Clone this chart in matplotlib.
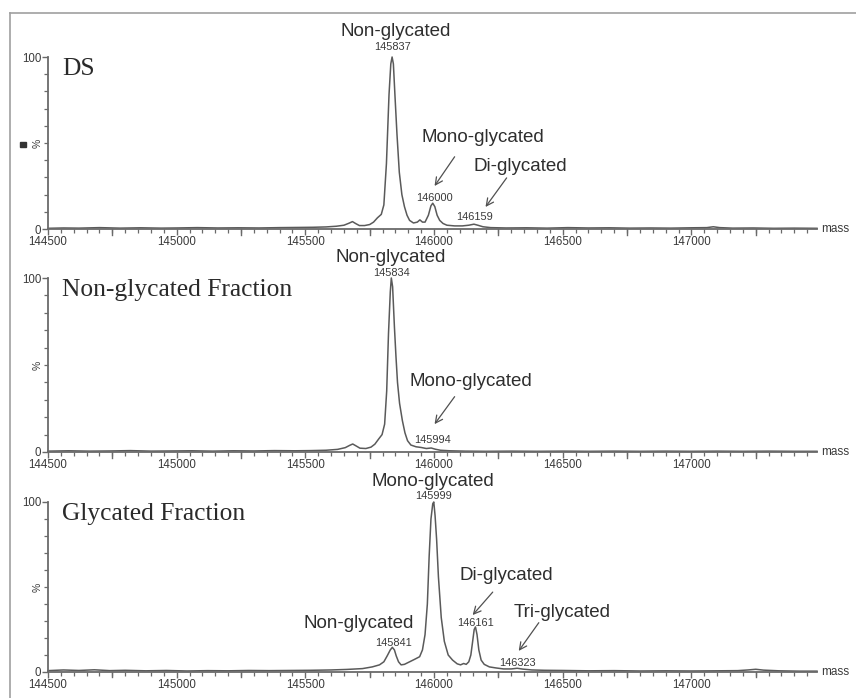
import matplotlib
matplotlib.use("Agg")
import matplotlib.pyplot as plt
from matplotlib.lines import Line2D
from matplotlib.patches import Rectangle
from matplotlib.ticker import MultipleLocator, FixedLocator

# ---- spectra (deconvoluted mass, relative intensity %) ----
ds_mass = [144500, 144560, 144620, 144700, 144780, 144860, 144940, 145000, 145080,
           145160, 145240, 145320, 145400, 145470, 145530, 145580, 145620, 145650,
           145670, 145683, 145695, 145710, 145730, 145750, 145765, 145780, 145795,
           145805, 145815, 145825, 145832, 145837, 145842, 145848, 145856, 145865,
           145875, 145885, 145895, 145905, 145920, 145935, 145945, 145955, 145965,
           145978, 145988, 145995, 146003, 146012, 146022, 146035, 146050, 146080,
           146110, 146135, 146155, 146170, 146190, 146220, 146280, 146360, 146440,
           146520, 146600, 146680, 146760, 146840, 146920, 147000, 147060, 147085,
           147110, 147160, 147240, 147320, 147400, 147488]
ds_int = [0.4, 0.6, 0.5, 0.8, 0.5, 0.7, 0.5, 0.6, 0.8,
          0.6, 0.7, 0.6, 0.8, 0.9, 1.0, 1.2, 1.6, 2.2,
          3.4, 4.3, 3.2, 2.0, 2.0, 2.6, 4.0, 6.5, 8.5,
          14, 38, 78, 96, 100, 96, 78, 55, 33,
          20, 13, 8, 5, 3.5, 4.0, 5.3, 4.0, 4.0,
          8.0, 13.5, 15, 13, 8.0, 5.0, 3.2, 2.2, 1.8,
          1.8, 2.2, 2.8, 2.2, 1.3, 0.8, 0.6, 0.7, 0.5,
          0.8, 0.6, 0.7, 0.5, 0.6, 0.5, 0.7, 0.8, 1.3,
          0.8, 0.5, 0.6, 0.4, 0.5, 0.4]

ng_mass = [144500, 144580, 144660, 144740, 144820, 144900, 144980, 145060, 145140,
           145220, 145300, 145380, 145460, 145520, 145580, 145625, 145655, 145672,
           145684, 145697, 145712, 145735, 145755, 145770, 145785, 145798, 145808,
           145816, 145823, 145830, 145834, 145839, 145846, 145852, 145858, 145866,
           145877, 145887, 145897, 145910, 145930, 145950, 145970, 145989, 146005,
           146025, 146060, 146120, 146200, 146300, 146400, 146500, 146600, 146700,
           146800, 146900, 147000, 147100, 147200, 147300, 147400, 147488]
ng_int = [0.5, 0.7, 0.5, 0.6, 0.8, 0.5, 0.6, 0.7, 0.5,
          0.7, 0.6, 0.8, 0.7, 0.8, 1.0, 1.5, 2.5, 3.8,
          4.6, 3.5, 2.2, 2.0, 2.8, 4.5, 7.5, 10, 16,
          35, 68, 92, 100, 95, 72, 55, 40, 28,
          18, 11, 6.5, 4.0, 3.0, 2.6, 2.0, 2.3, 1.6,
          1.0, 0.7, 0.5, 0.4, 0.5, 0.4, 0.5, 0.4, 0.5,
          0.4, 0.5, 0.4, 0.5, 0.4, 0.5, 0.4, 0.4]

gl_mass = [144500, 144560, 144620, 144680, 144740, 144800, 144880, 144960, 145040,
           145120, 145200, 145280, 145360, 145440, 145520, 145600, 145660, 145722,
           145760, 145788, 145805, 145818, 145830, 145838, 145846, 145853, 145862,
           145872, 145885, 145905, 145925, 145944, 145955, 145965, 145974, 145981,
           145988, 145995, 145999, 146004, 146010, 146017, 146028, 146040, 146055,
           146072, 146090, 146103, 146115, 146125, 146135, 146143, 146150, 146156,
           146161, 146167, 146174, 146183, 146195, 146215, 146240, 146270, 146300,
           146323, 146345, 146380, 146430, 146500, 146600, 146700, 146800, 146900,
           147000, 147100, 147180, 147220, 147250, 147280, 147340, 147420, 147488]
gl_int = [0.8, 1.2, 0.9, 1.3, 0.8, 1.0, 0.7, 0.9, 0.6,
          0.8, 0.7, 0.9, 0.8, 0.9, 1.0, 1.2, 1.5, 2.0,
          3.0, 4.2, 6.0, 9.5, 13, 14.5, 13, 9.5, 6.0,
          4.2, 4.5, 6.0, 7.5, 9.0, 13, 22, 40, 68,
          90, 99, 100, 92, 78, 56, 32, 18, 10,
          7.0, 4.8, 4.2, 5.0, 4.5, 6.0, 10, 18, 25,
          26.5, 22, 13, 7.0, 4.5, 3.0, 2.4, 1.8, 1.8,
          2.2, 1.7, 1.2, 1.0, 0.9, 0.7, 0.8, 0.6, 0.7,
          0.6, 0.7, 0.8, 1.2, 1.6, 1.1, 0.7, 0.5, 0.5]

panel_titles = ["DS", "Non-glycated Fraction", "Glycated Fraction"]

# peak labels: (mass, intensity at label, text)
ds_peaks = [(145837, 106, "145837"), (146000, 18, "146000"), (146159, 7, "146159")]
ng_peaks = [(145834, 103, "145834"), (145994, 7, "145994")]
gl_peaks = [(145999, 103.5, "145999"), (145841, 17, "145841"),
            (146161, 28.8, "146161"), (146323, 5.3, "146323")]

# species names: (mass, intensity, text)
ds_names = [(145850, 115, "Non-glycated"), (146190, 53, "Mono-glycated"),
            (146334, 36.6, "Di-glycated")]
ng_names = [(145830, 111.5, "Non-glycated"), (146143, 40.4, "Mono-glycated")]
gl_names = [(145996, 112.1, "Mono-glycated"), (145708, 28.8, "Non-glycated"),
            (146279, 57, "Di-glycated"), (146497, 35, "Tri-glycated")]

# arrows: (from mass, from int, to mass, to int)
ds_arrows = [(146080, 42, 146002, 25), (146282, 29.7, 146200, 12.8)]
ng_arrows = [(146080, 31.8, 146002, 16)]
gl_arrows = [(146228, 47, 146150, 33.5), (146407, 29, 146329, 12.4)]

XMIN, XMAX = 144500, 147488
LINE_C = "#5a5a5a"
AX_C = "#6a6a6a"
TXT_C = "#3a3a3a"
SANS = ["Liberation Sans", "DejaVu Sans"]
SERIF = ["Liberation Serif", "DejaVu Serif"]

W, H = 856, 698
fig = plt.figure(figsize=(W / 100, H / 100), dpi=100, facecolor="white")

# outer frame (left and top edges)
fig.add_artist(Line2D([10 / W, 10 / W], [0, 1 - 13 / H], transform=fig.transFigure,
                      color="#a0a0a0", lw=1.2))
fig.add_artist(Line2D([10 / W, 1], [1 - 13 / H, 1 - 13 / H], transform=fig.transFigure,
                      color="#a0a0a0", lw=1.2))
# small marker on the left edge
fig.add_artist(Rectangle((20 / W, 1 - 147 / H), 6 / W, 5 / H, transform=fig.transFigure,
                         color="#333333"))

panels = [
    (229, 57, ds_mass, ds_int, ds_peaks, ds_names, ds_arrows),
    (452, 278, ng_mass, ng_int, ng_peaks, ng_names, ng_arrows),
    (672, 502, gl_mass, gl_int, gl_peaks, gl_names, gl_arrows),
]

left_px, right_px = 48, 817
for i, (y0, y1, mass, inten, peaks, names, arrows) in enumerate(panels):
    ax = fig.add_axes([left_px / W, 1 - y0 / H, (right_px - left_px) / W, (y0 - y1) / H])
    ax.set_facecolor("none")
    ax.plot(mass, inten, color=LINE_C, lw=1.1, clip_on=False)
    ax.set_xlim(XMIN, XMAX)
    ax.set_ylim(0, 100)
    for s in ("top", "right"):
        ax.spines[s].set_visible(False)
    for s in ("left", "bottom"):
        ax.spines[s].set_color(AX_C)
        ax.spines[s].set_linewidth(1.3)

    # x ticks: labels every 500, ticks every 250, minor every 50
    ax.xaxis.set_major_locator(FixedLocator([144500, 145000, 145500, 146000, 146500, 147000]))
    ax.xaxis.set_minor_locator(MultipleLocator(50))
    ax.tick_params(axis="x", which="major", length=4.5, width=1, color=AX_C,
                   labelsize=8.3, labelcolor=TXT_C, pad=0.5)
    ax.tick_params(axis="x", which="minor", length=3, width=0.9, color=AX_C)
    for xm in [144750, 145250, 145750, 146250, 146750, 147250]:
        ax.plot([xm, xm], [0, -3.2], color=AX_C, lw=1, clip_on=False)
    for lab in ax.get_xticklabels():
        lab.set_fontfamily(SANS)

    # y ticks
    ax.yaxis.set_major_locator(FixedLocator([0, 100]))
    ax.yaxis.set_minor_locator(MultipleLocator(10))
    ax.set_yticklabels(["0", "100"])
    ax.tick_params(axis="y", which="major", length=4, width=1, color=AX_C,
                   labelsize=8.3, labelcolor=TXT_C, pad=1)
    ax.tick_params(axis="y", which="minor", length=3, width=0.9, color=AX_C)
    for lab in ax.get_yticklabels():
        lab.set_fontfamily(SANS)
    ax.text(-0.007, 0.5, "%", transform=ax.transAxes, rotation=90, ha="right",
            va="center", fontsize=7.5, color=TXT_C, family=SANS)

    ax.text(1.006, 0.0, "mass", transform=ax.transAxes, ha="left", va="center",
            fontsize=8.5, color=TXT_C, family=SANS)

    ax.text(0.0185, 0.995, panel_titles[i], transform=ax.transAxes, ha="left", va="top",
            fontsize=18.4, color="#2a2a2a", family=SERIF)

    for m, y, t in peaks:
        ax.text(m, y, t, ha="center", va="center", fontsize=7.9, color=TXT_C,
                family=SANS, clip_on=False)
    for m, y, t in names:
        ax.text(m, y, t, ha="center", va="center", fontsize=13.5, color="#2e2e2e",
                family=SANS, clip_on=False)
    for xa, ya, xb, yb in arrows:
        ax.annotate("", xy=(xb, yb), xytext=(xa, ya),
                    arrowprops=dict(arrowstyle="->", color="#505050", lw=0.9,
                                    shrinkA=0, shrinkB=0, mutation_scale=13),
                    annotation_clip=False)

fig.savefig("out.png", dpi=100, facecolor="white")
